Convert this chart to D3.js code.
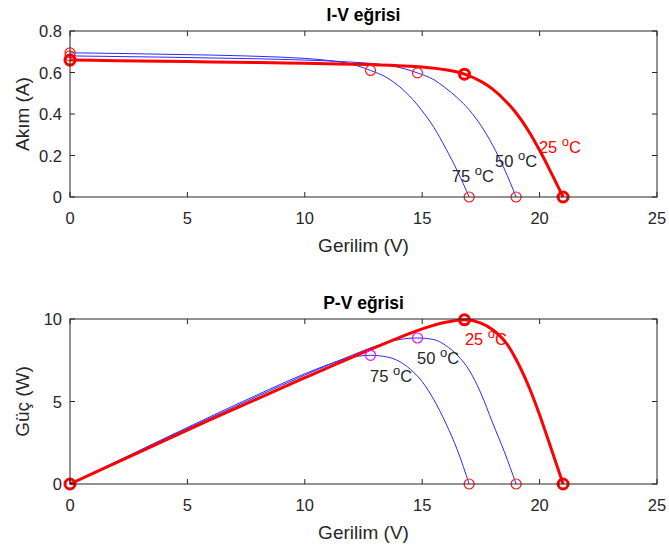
<!DOCTYPE html>
<html>
<head>
<meta charset="utf-8">
<script src="https://cdn.jsdelivr.net/npm/d3@7"></script>
<style>
  html, body { margin: 0; padding: 0; background: #fff; }
  svg { display: block; font-family: "Liberation Sans", Arial, sans-serif; }
</style>
</head>
<body>
<svg width="669" height="548"></svg>
<script>
// --- DATA ---
const xTicks = [0, 5, 10, 15, 20, 25];
const iTicks = [0, 0.2, 0.4, 0.6, 0.8];
const pTicks = [0, 5, 10];

// I-V curves (volts, amps)
const iv25V = [0, 2, 4, 6, 8, 10, 12, 14, 15, 16, 16.8, 17.5, 18, 18.6, 19, 19.6, 20, 20.5, 21];
const iv25I = [0.66, 0.657, 0.654, 0.651, 0.648, 0.644, 0.64, 0.633, 0.627, 0.613, 0.592, 0.557, 0.52, 0.457, 0.405, 0.305, 0.225, 0.115, 0];
const iv50V = [0, 2, 4, 6, 8, 10, 12, 13, 14, 14.8, 15.5, 16, 16.5, 17, 17.5, 18, 18.5, 19];
const iv50I = [0.68, 0.677, 0.674, 0.67, 0.666, 0.66, 0.65, 0.642, 0.625, 0.598, 0.565, 0.525, 0.478, 0.42, 0.345, 0.25, 0.135, 0];
const iv75V = [0, 2, 4, 6, 8, 10, 11, 12, 12.8, 13.5, 14, 14.6, 15, 15.5, 16, 16.5, 17];
const iv75I = [0.695, 0.692, 0.688, 0.684, 0.678, 0.668, 0.658, 0.64, 0.61, 0.575, 0.535, 0.47, 0.415, 0.335, 0.235, 0.125, 0];

// P-V curves (volts, watts)
const pv25V = [0, 2, 4, 6, 8, 10, 12, 14, 15, 16, 16.8, 17.5, 18, 18.6, 19, 19.6, 20, 20.3, 20.6, 21];
const pv25P = [0, 1.31, 2.62, 3.91, 5.18, 6.44, 7.68, 8.86, 9.4, 9.8, 9.95, 9.75, 9.35, 8.5, 7.55, 5.7, 4.2, 2.95, 1.7, 0];
const pv50V = [0, 2, 4, 6, 8, 10, 12, 13, 14, 14.8, 15.5, 16, 16.5, 17, 17.5, 18, 18.5, 19];
const pv50P = [0, 1.35, 2.7, 4.02, 5.33, 6.6, 7.8, 8.35, 8.75, 8.85, 8.75, 8.4, 7.8, 6.9, 5.5, 3.7, 1.95, 0];
const pv75V = [0, 2, 4, 6, 8, 10, 11, 12, 12.8, 13.5, 14, 14.5, 15, 15.5, 16, 16.5, 17];
const pv75P = [0, 1.38, 2.75, 4.1, 5.42, 6.68, 7.24, 7.68, 7.8, 7.7, 7.45, 6.95, 6.2, 5.1, 3.7, 2.05, 0];

// marked points: short circuit, maximum power, open circuit
const ivMarks25 = [[0, 0.66], [16.8, 0.592], [21, 0]];
const ivMarks = [[0, 0.68], [0, 0.695], [14.8, 0.598], [12.8, 0.61], [19, 0], [17, 0]];
const pvMarks25 = [[0, 0], [16.8, 9.95], [21, 0]];
const pvMpp = [[14.8, 8.85], [12.8, 7.8]];
const pvVoc = [[19, 0], [17, 0]];

// temperature labels [temp, V, value, colour]
const ivLabels = [["25", 19.97, 0.242, "#ff0000"], ["50", 18.1, 0.175, "#262626"], ["75", 16.26, 0.1, "#262626"]];
const pvLabels = [["25", 16.82, 8.79, "#ff0000"], ["50", 14.78, 7.61, "#262626"], ["75", 12.78, 6.55, "#262626"]];

// --- SETUP ---
const svg = d3.select('svg');
const axisColor = '#262626';

function drawPanel(cfg) {
    const x = d3.scaleLinear().domain([0, 25]).range([70, 657]);
    const y = d3.scaleLinear().domain(cfg.yDomain).range([cfg.bottom, cfg.top]);
    const g = svg.append('g');

    const line = d3.line()
        .x(d => x(d[0]))
        .y(d => y(d[1]))
        .curve(d3.curveMonotoneX);

    // thin blue curves first, red on top
    cfg.thin.forEach(s => {
        g.append('path')
            .attr('d', line(d3.zip(s[0], s[1])))
            .attr('fill', 'none')
            .attr('stroke', '#2a2aff')
            .attr('stroke-width', 1);
    });
    g.append('path')
        .attr('d', line(d3.zip(cfg.thick[0], cfg.thick[1])))
        .attr('fill', 'none')
        .attr('stroke', '#ff0000')
        .attr('stroke-width', 3);

    // markers
    cfg.marks.forEach(m => {
        g.selectAll(null)
            .data(m.pts)
            .enter().append('circle')
            .attr('cx', d => x(d[0]))
            .attr('cy', d => y(d[1]))
            .attr('r', 5)
            .attr('fill', 'none')
            .attr('stroke', m.color)
            .attr('stroke-width', m.width);
    });

    // box and inward ticks on all sides
    g.append('rect')
        .attr('x', 70).attr('y', cfg.top)
        .attr('width', 587).attr('height', cfg.bottom - cfg.top)
        .attr('fill', 'none').attr('stroke', axisColor).attr('stroke-width', 1);

    const tl = 5;
    xTicks.forEach(t => {
        g.append('line').attr('x1', x(t)).attr('x2', x(t)).attr('y1', cfg.bottom).attr('y2', cfg.bottom - tl).attr('stroke', axisColor);
        g.append('line').attr('x1', x(t)).attr('x2', x(t)).attr('y1', cfg.top).attr('y2', cfg.top + tl).attr('stroke', axisColor);
        g.append('text')
            .attr('x', x(t)).attr('y', cfg.bottom + 27)
            .attr('text-anchor', 'middle')
            .attr('font-size', 16.5).attr('fill', axisColor)
            .text(t);
    });
    cfg.yTicks.forEach(t => {
        g.append('line').attr('x1', 70).attr('x2', 70 + tl).attr('y1', y(t)).attr('y2', y(t)).attr('stroke', axisColor);
        g.append('line').attr('x1', 657).attr('x2', 657 - tl).attr('y1', y(t)).attr('y2', y(t)).attr('stroke', axisColor);
        g.append('text')
            .attr('x', 62).attr('y', y(t) + 6)
            .attr('text-anchor', 'end')
            .attr('font-size', 16.5).attr('fill', axisColor)
            .text(t);
    });

    // titles and axis labels
    g.append('text')
        .attr('x', 363.5).attr('y', cfg.top - 10)
        .attr('text-anchor', 'middle')
        .attr('font-size', 17.5).attr('font-weight', 'bold').attr('fill', '#000')
        .text(cfg.title);
    g.append('text')
        .attr('x', 363.5).attr('y', cfg.bottom + 55)
        .attr('text-anchor', 'middle')
        .attr('font-size', 19).attr('fill', axisColor)
        .text('Gerilim (V)');
    g.append('text')
        .attr('transform', `translate(29,${(cfg.top + cfg.bottom) / 2}) rotate(-90)`)
        .attr('text-anchor', 'middle')
        .attr('font-size', 19).attr('fill', axisColor)
        .text(cfg.yLabel);

    // temperature annotations
    cfg.labels.forEach(l => {
        const t = g.append('text')
            .attr('x', x(l[1])).attr('y', y(l[2]) + 6)
            .attr('font-size', 16.5).attr('fill', l[3]);
        t.append('tspan').text(l[0] + ' ');
        t.append('tspan').attr('dy', -7).attr('font-size', 13).text('o');
        t.append('tspan').attr('dy', 7).text('C');
    });
}

drawPanel({
    title: 'I-V eğrisi',
    yLabel: 'Akım (A)',
    yDomain: [0, 0.8],
    yTicks: iTicks,
    top: 31, bottom: 197,
    thin: [[iv50V, iv50I], [iv75V, iv75I]],
    thick: [iv25V, iv25I],
    marks: [
        { pts: ivMarks, color: '#ff2020', width: 1.2 },
        { pts: ivMarks25, color: '#ff0000', width: 3 }
    ],
    labels: ivLabels
});

drawPanel({
    title: 'P-V eğrisi',
    yLabel: 'Güç (W)',
    yDomain: [0, 10],
    yTicks: pTicks,
    top: 319, bottom: 484,
    thin: [[pv50V, pv50P], [pv75V, pv75P]],
    thick: [pv25V, pv25P],
    marks: [
        { pts: pvVoc, color: '#ff2020', width: 1.2 },
        { pts: pvMpp, color: '#ff00ff', width: 1.2 },
        { pts: pvMarks25, color: '#ff0000', width: 3 }
    ],
    labels: pvLabels
});
</script>
</body>
</html>
